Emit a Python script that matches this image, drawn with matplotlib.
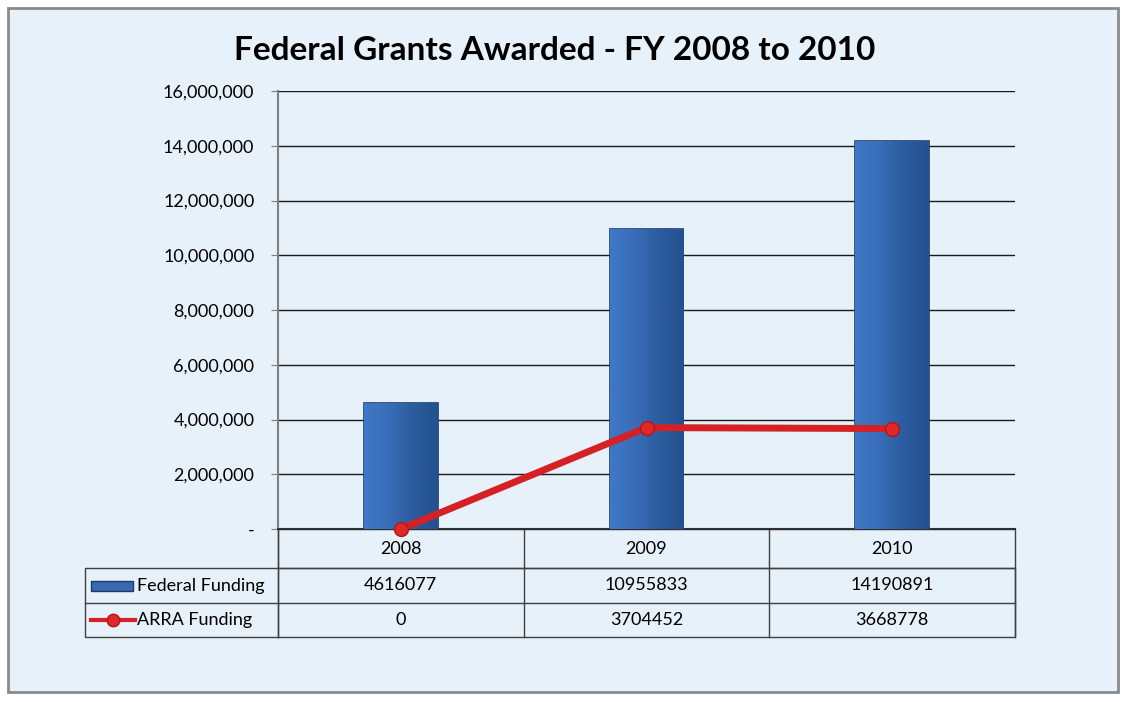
import numpy as np
import matplotlib.pyplot as plt
from matplotlib.patches import Rectangle
from matplotlib.lines import Line2D
from matplotlib.ticker import FuncFormatter
from matplotlib.colors import LinearSegmentedColormap

# Dados do gráfico
anos = ['2008', '2009', '2010']
federal = [4616077, 10955833, 14190891]
arra = [0, 3704452, 3668778]
series = ['Federal Funding', 'ARRA Funding']

plt.rcParams['font.family'] = ['Lato', 'DejaVu Sans']

fundo = '#E7F1F9'
fig = plt.figure(figsize=(11.26, 7.02), dpi=100, facecolor='white')
fig.patches.append(Rectangle((8 / 1126, 10 / 702), 1110 / 1126, 684 / 702,
                             transform=fig.transFigure, facecolor=fundo,
                             edgecolor='#8A8A8A', linewidth=2, zorder=-10))

ax = fig.add_axes([278 / 1126, 173 / 702, 737 / 1126, 438 / 702])
ax.set_facecolor('none')

x = range(len(anos))
barras = ax.bar(x, federal, width=0.3, color='#3868AE', edgecolor='#1E3C68',
                linewidth=1.2, zorder=3)
# degradê horizontal nas barras
degrade = LinearSegmentedColormap.from_list('azul', ['#3F78C6', '#3A6DB8', '#2C5C9F', '#24518F'])
grad = np.linspace(0, 1, 64).reshape(1, -1)
for b in barras:
    im = ax.imshow(grad, cmap=degrade, aspect='auto', zorder=3.5,
                   extent=[b.get_x(), b.get_x() + b.get_width(), 0, b.get_height()])
    im.set_clip_path(b)

ax.plot(x, arra, color='#D52024', linewidth=5, marker='o', markersize=10,
        markerfacecolor='#E02828', markeredgecolor='#B01818', zorder=4,
        clip_on=False)

ax.set_xlim(-0.5, len(anos) - 0.5)
ax.set_ylim(0, 16000000)
ax.set_yticks(range(0, 16000001, 2000000))
ax.yaxis.set_major_formatter(FuncFormatter(lambda v, p: '-' if v == 0 else f'{int(v):,}'))
ax.tick_params(axis='y', labelsize=13, length=5, color='#808080', pad=12)
ax.set_xticks([])
ax.grid(axis='y', color='#1A1A1A', linewidth=1, zorder=1)
for s in ['top', 'right']:
    ax.spines[s].set_visible(False)
ax.spines['left'].set_color('#808080')
ax.spines['left'].set_linewidth(1.5)
ax.spines['bottom'].set_color('#303030')
ax.spines['bottom'].set_linewidth(1.5)

fig.text(555 / 1126, 1 - 50 / 702, 'Federal Grants Awarded - FY 2008 to 2010',
         ha='center', va='center', fontsize=24, fontweight='bold')

# Tabela de dados abaixo do gráfico
px = 1 / 737
py = 1 / 438
esq = -(278 - 85) * px
linhas = [0, -39 * py, -74 * py, -108 * py]
cor_linha = '#404040'
ax.add_patch(Rectangle((0, linhas[1]), 1, -linhas[1], transform=ax.transAxes,
                       fill=False, edgecolor=cor_linha, linewidth=1, clip_on=False))
ax.add_patch(Rectangle((esq, linhas[3]), 1 - esq, linhas[1] - linhas[3],
                       transform=ax.transAxes, fill=False, edgecolor=cor_linha,
                       linewidth=1, clip_on=False))
ax.add_line(Line2D([esq, 1], [linhas[2]] * 2, transform=ax.transAxes,
                   color=cor_linha, linewidth=1, clip_on=False))
for k in range(len(anos) + 1):
    ax.add_line(Line2D([k / 3, k / 3], [0 if 0 < k < 3 else linhas[1], linhas[3]],
                       transform=ax.transAxes, color=cor_linha, linewidth=1,
                       clip_on=False))
ax.add_line(Line2D([0, 0], [0, linhas[3]], transform=ax.transAxes,
                   color=cor_linha, linewidth=1, clip_on=False))

for i, ano in enumerate(anos):
    cx = (i + 0.5) / 3
    ax.text(cx, (linhas[0] + linhas[1]) / 2, ano, transform=ax.transAxes,
            ha='center', va='center', fontsize=13)
    ax.text(cx, (linhas[1] + linhas[2]) / 2, str(federal[i]), transform=ax.transAxes,
            ha='center', va='center', fontsize=13)
    ax.text(cx, (linhas[2] + linhas[3]) / 2, str(arra[i]), transform=ax.transAxes,
            ha='center', va='center', fontsize=13)

# simbolos da legenda
y1 = (linhas[1] + linhas[2]) / 2
y2 = (linhas[2] + linhas[3]) / 2
ax.add_patch(Rectangle((esq + 6 * px, y1 - 5 * py), 42 * px, 10 * py,
                       transform=ax.transAxes, facecolor='#3868AE',
                       edgecolor='#1E3C68', linewidth=1, clip_on=False))
ax.add_line(Line2D([esq + 6 * px, esq + 50 * px], [y2, y2], transform=ax.transAxes,
                   color='#D52024', linewidth=3, clip_on=False))
ax.add_line(Line2D([esq + 28 * px], [y2], transform=ax.transAxes, marker='o',
                   markersize=9, color='#E02828', markeredgecolor='#B01818',
                   clip_on=False))
ax.text(esq + 52 * px, y1, series[0], transform=ax.transAxes, ha='left',
        va='center', fontsize=13)
ax.text(esq + 52 * px, y2, series[1], transform=ax.transAxes, ha='left',
        va='center', fontsize=13)

fig.savefig('out.png', dpi=100, facecolor='white')
